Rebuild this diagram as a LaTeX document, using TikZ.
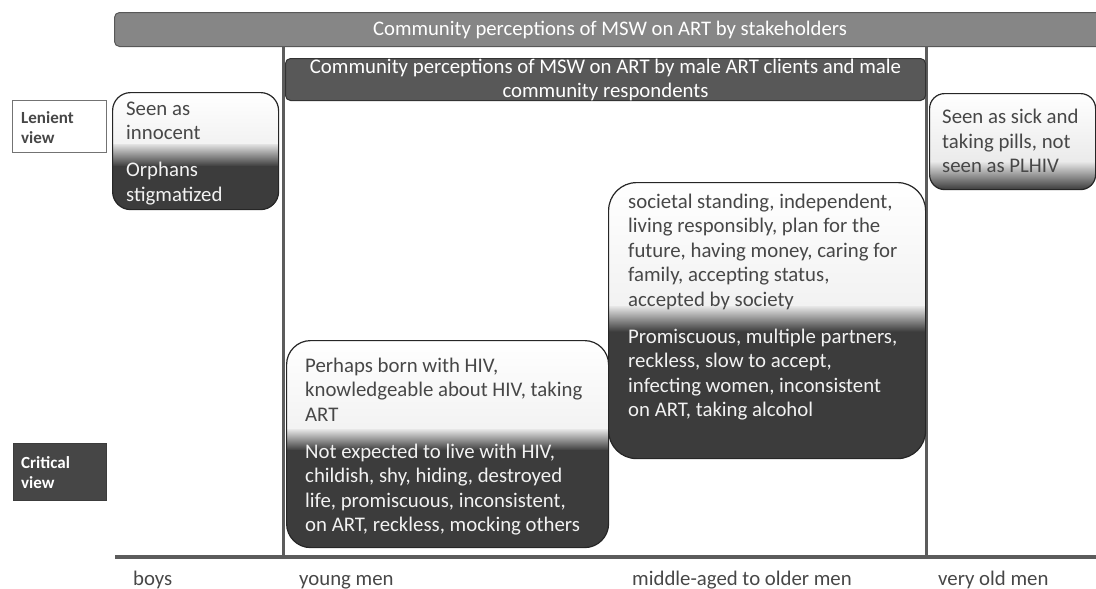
\documentclass[tikz,border=0pt]{standalone}
\usepackage{fontspec}
\setmainfont{Carlito}
\usetikzlibrary{calc}

\definecolor{darkfill}{HTML}{3C3C3C}
\definecolor{bannergray}{HTML}{868686}
\definecolor{bannerdark}{HTML}{585858}
\definecolor{rulegray}{HTML}{5C5C5C}
\definecolor{textdark}{HTML}{474747}
\definecolor{lightend}{HTML}{E2E2E2}
\definecolor{paletext}{HTML}{F2F2F2}

\tikzset{
  % rounded box: pale top part, short dark gradient, dark bottom part
  viewbox/.style n args={3}{draw=black!85, line width=1.2pt, rounded corners=#3,
    inner sep=0pt, anchor=north west,
    path picture={
      \fill[sharp corners, top color=white, bottom color=lightend]
        (path picture bounding box.north west) rectangle
        ($(path picture bounding box.north east)!#1!(path picture bounding box.south east)$);
      \shade[sharp corners, top color=lightend, bottom color=darkfill]
        ($(path picture bounding box.north west)!#1!(path picture bounding box.south west)$) rectangle
        ($(path picture bounding box.north east)!#2!(path picture bounding box.south east)$);
      \fill[sharp corners, darkfill]
        ($(path picture bounding box.north west)!#2!(path picture bounding box.south west)$) rectangle
        (path picture bounding box.south east);
    }},
  % multi-line texts are placed by the baseline of their last line
  bodytext/.style={anchor=base west, inner sep=0pt, align=left,
    font=\fontsize{20.8}{24.5}\selectfont},
  uptext/.style={bodytext, text=textdark},
  downtext/.style={bodytext, text=paletext},
  axislabel/.style={anchor=base west, inner sep=0pt, text=textdark,
    font=\fontsize{20.8}{24}\selectfont},
  keybox/.style={anchor=north west, inner sep=0pt, line width=0.8pt},
  keytext/.style={anchor=base west, inner sep=0pt, align=left,
    font=\fontsize{17}{20}\selectfont\bfseries},
  divider/.style={draw=rulegray, line width=3pt},
}

\begin{document}
\begin{tikzpicture}[x=1pt, y=1pt]
\useasboundingbox (0,0) rectangle (1096,-589);

% headline banner
\node[draw=bannerdark, fill=bannergray, rounded corners=5pt, line width=1pt,
  anchor=north west, minimum width=990pt, minimum height=34pt, inner sep=0pt,
  font=\fontsize{20.7}{24}\selectfont] (head) at (114,-12) {};
\node[text=white, inner sep=0pt, font=\fontsize{20.7}{24}\selectfont, anchor=base]
  (headtext) at (610,-35) {Community perceptions of MSW on ART by stakeholders};

% column dividers and age axis
\coordinate (d1top) at (283,-46);
\coordinate (d1bot) at (283,-557);
\coordinate (d2top) at (926,-46);
\coordinate (d2bot) at (926,-557);
\coordinate (axl) at (115,-557);
\coordinate (axr) at (1096,-557);
\draw[divider] (d1top) -- (d1bot);
\draw[divider] (d2top) -- (d2bot);
\draw[draw=rulegray, line width=4pt] (axl) -- (axr);

% second banner
\node[draw=black!80, fill=bannerdark, rounded corners=5pt, line width=1pt,
  anchor=north west, minimum width=640pt, minimum height=42pt, inner sep=0pt,
  text=white, align=center, font=\fontsize{20.8}{24}\selectfont] (sub) at (285,-58)
  {Community perceptions of MSW on ART by male ART clients and male\\community respondents};

% key boxes
\node[keybox, draw=black!55, fill=white, minimum width=94pt, minimum height=52pt] (lenbox) at (12,-100) {};
\node[keytext, text=textdark] (lentext) at (21,-143) {Lenient\\view};
\node[keybox, draw=darkfill, fill=darkfill!95!white, minimum width=93pt, minimum height=57pt] (critbox) at (13,-443) {};
\node[keytext, text=white] (crittext) at (21,-488) {Critical\\view};

% boys
\node[viewbox={0.44}{0.63}{18pt}, minimum width=166pt, minimum height=117pt] (boys) at (112,-92) {};
\node[uptext] (boysup) at (126,-139.5) {Seen as\\innocent};
\node[downtext] (boysdown) at (126,-201) {Orphans\\stigmatized};

% young men
\node[viewbox={0.43}{0.53}{24pt}, minimum width=322pt, minimum height=207pt] (young) at (286,-340) {};
\node[uptext] (youngup) at (305,-421) {Perhaps born with HIV,\\knowledgeable about HIV, taking\\ART};
\node[downtext] (youngdown) at (305,-531.5) {Not expected to live with HIV,\\childish, shy, hiding, destroyed\\life, promiscuous, inconsistent,\\on ART, reckless, mocking others};

% middle-aged to older men
\node[viewbox={0.45}{0.54}{28pt}, minimum width=317pt, minimum height=276pt] (middle) at (608,-182) {};
\node[uptext] (middleup) at (628,-306) {societal standing, independent,\\living responsibly, plan for the\\future, having money, caring for\\family, accepting status,\\accepted by society};
\node[downtext] (middledown) at (628,-416.5) {Promiscuous, multiple partners,\\reckless, slow to accept,\\infecting women, inconsistent\\on ART, taking alcohol};

% very old men
\node[viewbox={0.72}{1.0}{15pt}, minimum width=166pt, minimum height=96pt] (old) at (929,-93) {};
\node[uptext] (oldup) at (942,-172.5) {Seen as sick and\\taking pills, not\\seen as PLHIV};

% age labels
\node[axislabel] (lboys) at (133,-585) {boys};
\node[axislabel] (lyoung) at (299,-585) {young men};
\node[axislabel] (lmiddle) at (632,-585) {middle-aged to older men};
\node[axislabel] (lold) at (938,-585) {very old men};
\end{tikzpicture}
\end{document}
